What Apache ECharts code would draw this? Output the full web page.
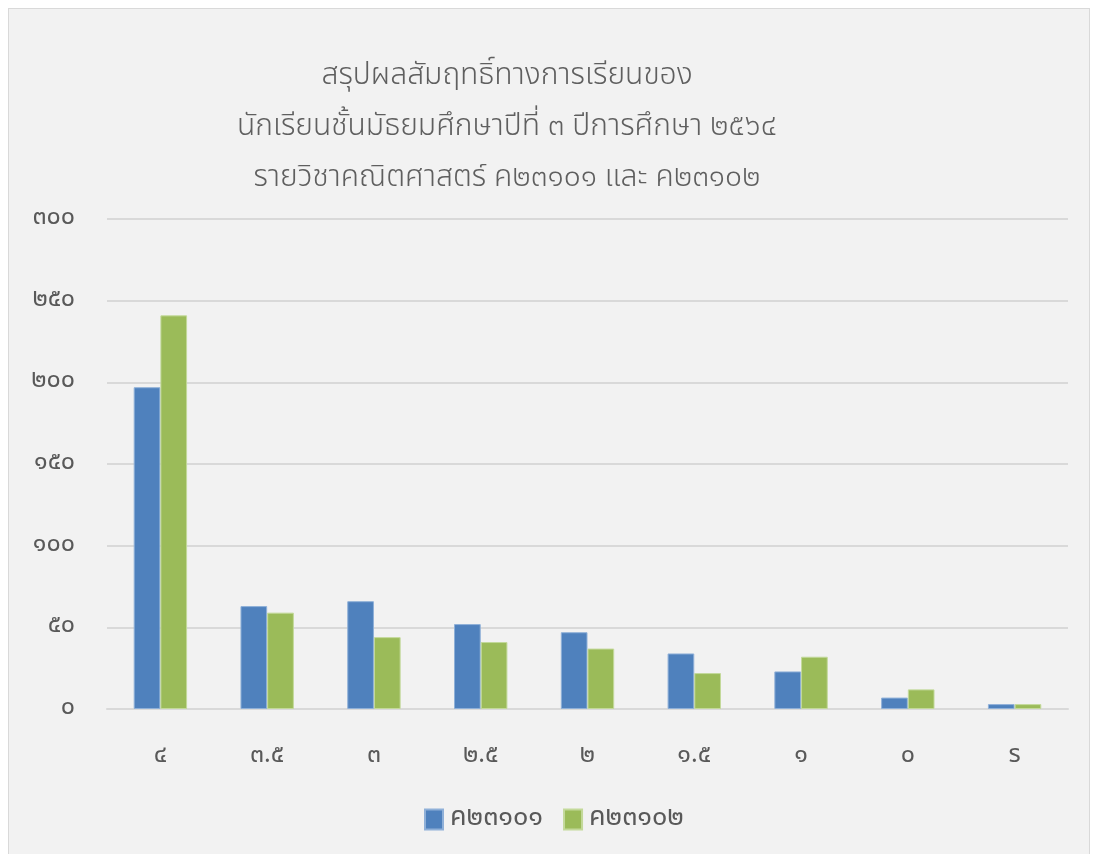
<!DOCTYPE html>
<html>
<head>
<meta charset="utf-8">
<script src="https://cdn.jsdelivr.net/npm/echarts@6/dist/echarts.min.js"></script>
<style>
html,body{margin:0;padding:0;background:#ffffff;}
#frame{position:absolute;left:8px;top:8px;width:1082px;height:860px;background:#f2f2f2;border:1px solid #d9d9d9;box-sizing:border-box;}
#chart{position:absolute;left:0;top:0;width:1093px;height:854px;}
</style>
</head>
<body>
<div id="frame"></div>
<div id="chart"></div>
<script>
const titleLines = ['สรุปผลสัมฤทธิ์ทางการเรียนของ', 'นักเรียนชั้นมัธยมศึกษาปีที่ ๓ ปีการศึกษา ๒๕๖๔', 'รายวิชาคณิตศาสตร์ ค๒๓๑๐๑ และ ค๒๓๑๐๒'];
const categories = ['๔', '๓.๕', '๓', '๒.๕', '๒', '๑.๕', '๑', '๐', 'ร'];
const seriesNames = ['ค๒๓๑๐๑', 'ค๒๓๑๐๒'];
const valuesK23101 = [197, 63, 66, 52, 47, 34, 23, 7, 3];
const valuesK23102 = [241, 59, 44, 41, 37, 22, 32, 12, 3];
const yTicks = [0, 50, 100, 150, 200, 250, 300];
const yTickLabels = ['๐', '๕๐', '๑๐๐', '๑๕๐', '๒๐๐', '๒๕๐', '๓๐๐'];

const FONT = '"Noto Sans Thai", "Noto Sans", "DejaVu Sans", sans-serif';
const chart = echarts.init(document.getElementById('chart'), null, {renderer: 'canvas'});
chart.setOption({
  backgroundColor: 'transparent',
  animation: false,
  textStyle: {fontFamily: FONT},
  graphic: [{
    type: 'text', x: 507, y: 52,
    style: {text: titleLines.join('\n'), textAlign: 'center', font: '300 30px ' + FONT, lineHeight: 51, fill: '#5f5f5f'}
  }],
  grid: {left: 107, right: 25, top: 219, bottom: 145, containLabel: false},
  legend: {
    bottom: 16, left: 419, itemWidth: 18, itemHeight: 20, itemGap: 20,
    icon: 'rect', data: seriesNames,
    textStyle: {color: '#595959', fontSize: 27, fontFamily: FONT, padding: [0, 0, 0, 2]}
  },
  xAxis: {
    type: 'category', data: categories,
    axisLine: {lineStyle: {color: '#d9d9d9', width: 2}},
    axisTick: {show: false},
    axisLabel: {color: '#595959', fontSize: 25, margin: 35, fontFamily: FONT}
  },
  yAxis: {
    type: 'value', min: 0, max: 300, interval: 50,
    axisLine: {show: false}, axisTick: {show: false},
    splitLine: {lineStyle: {color: '#d9d9d9', width: 2}},
    axisLabel: {color: '#595959', fontSize: 25, margin: 32, fontFamily: FONT,
      formatter: v => yTickLabels[yTicks.indexOf(v)]}
  },
  series: [
    {name: seriesNames[0], type: 'bar', data: valuesK23101, barGap: '0%', barCategoryGap: '50%',
     itemStyle: {color: '#4f81bd', borderColor: '#8fb0d8', borderWidth: 1}},
    {name: seriesNames[1], type: 'bar', data: valuesK23102,
     itemStyle: {color: '#9bbb59', borderColor: '#c3d99a', borderWidth: 1}}
  ]
});
</script>
</body>
</html>
